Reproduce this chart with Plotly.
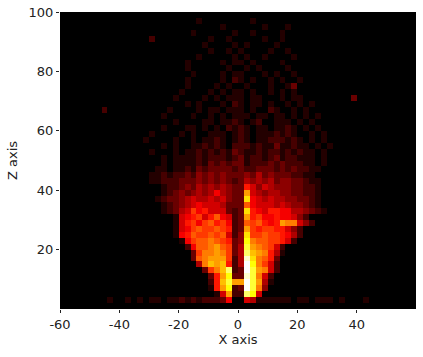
import plotly.graph_objects as go

# Estimated 2-unit bins, top row (z 98-100) to bottom (z 0-2).
# Base-36 digit = intensity 0..20 (k). LEFT strings end at x=0; RIGHT strings start at x=0.
LEFT_ROWS = [
"0001000000","0000000100","0010000001","200000000010010","0000100001",
"0000010010","0001000001","0100000101","00100000010","00010000101",
"00100000102","000100001010","001000010101","0010000101011","00101000102",
"20000000000100001011011","01000010010101","0010000110112","001000110101021",
"0100001010011101","01000010010112101","00001010011212102","0100010112121213",
"0001011112122212","0001011112132323","0011011213233332","0112122324343433",
"0112223334343432","01223435454543","01234345457543","12334565565643",
"1234567666533","1235697866632","1678968a762","168979a8972","1679a99a982",
"178a99a9a62","179aaba983","27aabca93","39bbcb93","3abccc92","5bdcd82",
"39bdh2","38cf3","28dgc","18cf2","16c2","0001001010110112121222370","0",
]
RIGHT_ROWS = [
"0010000000","0000100010","0010000100","0000100100","0100001000",
"1000010010","0100100001","1010000100","0101000010","1000101001",
"1010010100100","010001001300","101001010100","10110001011000000003","1011010010101",
"1010021001010","11011011010101","1012001110101","210110112101010",
"2101112121001010","2101122212101010","2212113112110101","2112122121211010",
"3122123122111010","3122232322211010","3223332323221100","343534333221100",
"354545344332110","386465444332210","3c6545544332210","3e7656554433210",
"3a7666565443210","3e87688775543210","3c8977877642","3a9a878cbb642","3c989988642",
"4e99a998752","4fbaa99862","5gcba962","5hdcb851","5jeba83","5kfb962",
"3kgcb62","3jgb62","ckgc51","3kgb4","2hf6","06511111101101110100010","0",
]
X_TICKS = [-60, -40, -20, 0, 20, 40]
Z_TICKS = [20, 40, 60, 80, 100]
HOT = [[0, "#000000"], [0.365, "#ff0000"], [0.746, "#ffff00"], [1, "#ffffff"]]

rows = [[int(c, 36) for c in l.zfill(30) + r.ljust(30, "0")]
        for l, r in zip(LEFT_ROWS, RIGHT_ROWS)]
rows = rows[::-1]
while len(rows) < 50:
    rows.append([0] * 60)

fig = go.Figure(go.Heatmap(z=rows, x0=-59, dx=2, y0=1, dy=2, zmin=0, zmax=20,
                           colorscale=HOT, showscale=False, hoverinfo="skip"))
axis = dict(ticks="outside", ticklen=3, tickwidth=1, tickcolor="#222222",
            showgrid=False, zeroline=False, showline=False, automargin=False)
fig.update_xaxes(range=[-60, 60], tickvals=X_TICKS, ticktext=[str(v) for v in X_TICKS],
                 title=dict(text="X axis", standoff=4, font=dict(size=13)), **axis)
fig.update_yaxes(range=[0, 100], tickvals=Z_TICKS, ticktext=[str(v) for v in Z_TICKS],
                 title=dict(text="Z axis", standoff=8, font=dict(size=13)), **axis)
fig.update_layout(width=423, height=357, margin=dict(l=60, r=7, t=12, b=48),
                  plot_bgcolor="black", paper_bgcolor="white",
                  font=dict(family="DejaVu Sans", size=13, color="#222222"))
fig.write_html("out.html", config={"displayModeBar": False},
               post_script="document.body.style.margin='0';")
